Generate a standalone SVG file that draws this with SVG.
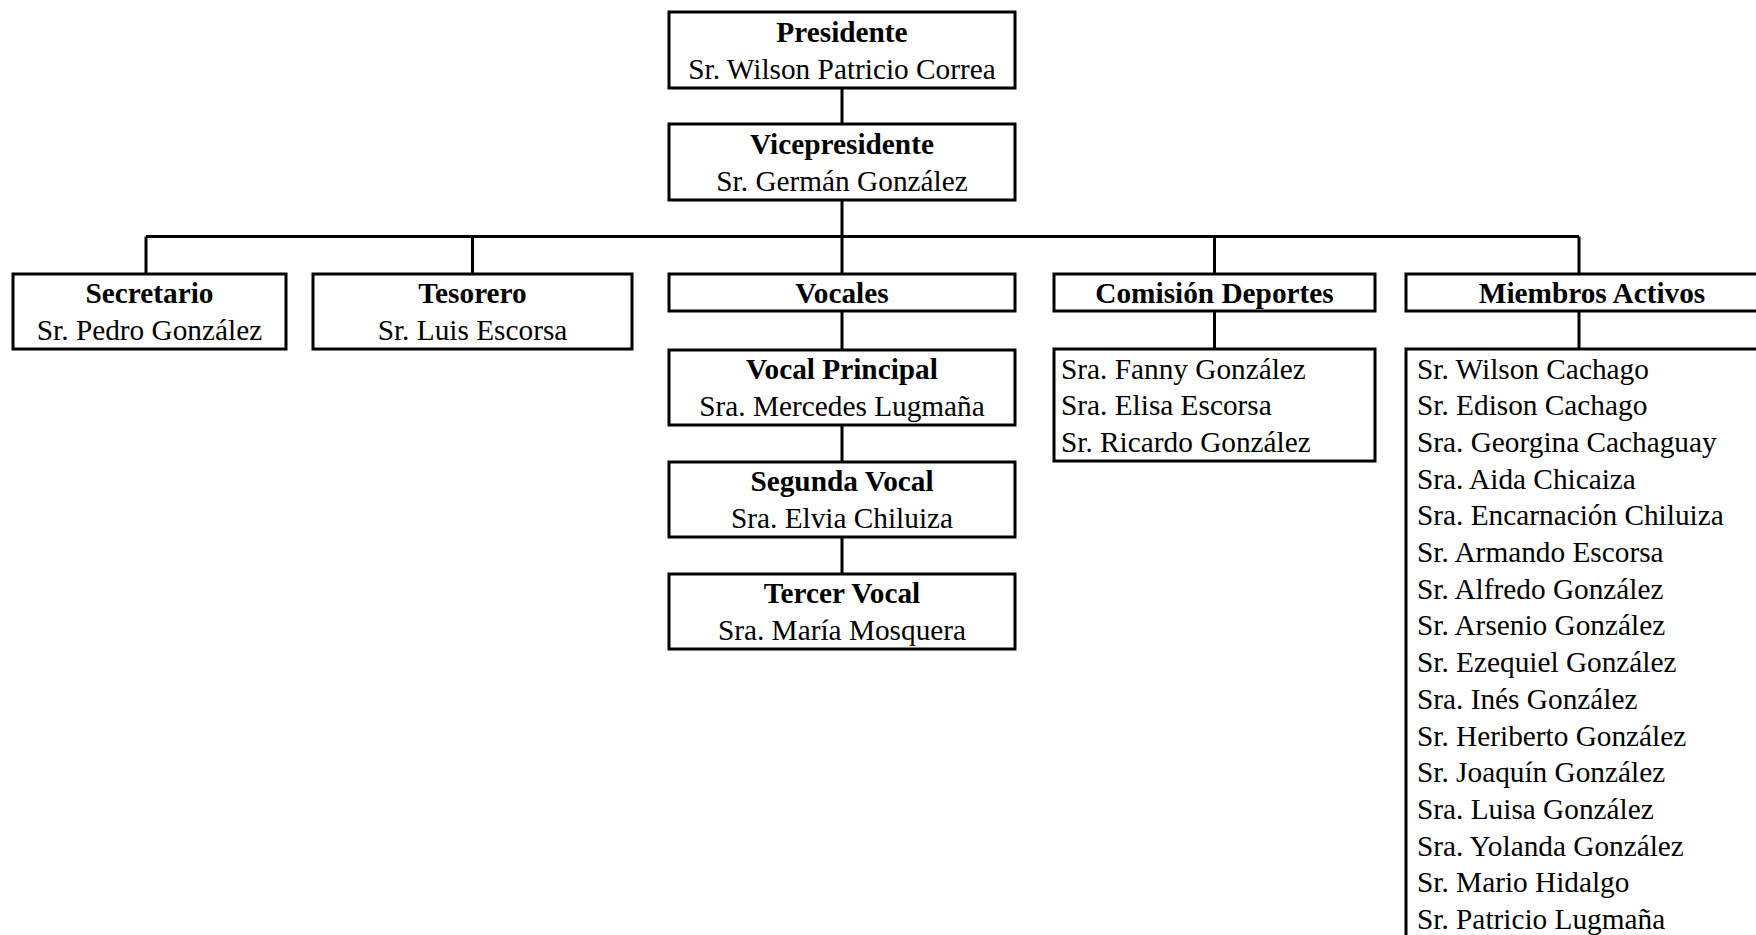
<svg xmlns="http://www.w3.org/2000/svg" width="1756" height="935" viewBox="0 0 1756 935">
<style>
.box{fill:#fff;stroke:#000;stroke-width:3}
.ln{stroke:#000;stroke-width:3;fill:none}
text{font-family:"Liberation Serif","Times New Roman",serif;font-size:29.3px;fill:#000}
.t{font-weight:bold;text-anchor:middle}
.n{text-anchor:middle}
</style>
<rect width="1756" height="935" fill="#fff"/>
<g id="connectors">
<line class="ln" x1="842" y1="88" x2="842" y2="124"/>
<line class="ln" x1="842" y1="200" x2="842" y2="274"/>
<line class="ln" x1="146" y1="236.5" x2="1579" y2="236.5"/>
<line class="ln" x1="146" y1="236.5" x2="146" y2="274"/>
<line class="ln" x1="472.5" y1="236.5" x2="472.5" y2="274"/>
<line class="ln" x1="1214.5" y1="236.5" x2="1214.5" y2="274"/>
<line class="ln" x1="1579" y1="236.5" x2="1579" y2="274"/>
<line class="ln" x1="842" y1="311" x2="842" y2="350"/>
<line class="ln" x1="842" y1="425" x2="842" y2="462"/>
<line class="ln" x1="842" y1="537" x2="842" y2="574"/>
<line class="ln" x1="1214.5" y1="311" x2="1214.5" y2="349"/>
<line class="ln" x1="1579" y1="311" x2="1579" y2="349"/>
</g>
<g id="presidente">
<rect class="box" x="669" y="12" width="346" height="76"/>
<text class="t" x="842" y="42">Presidente</text>
<text class="n" x="842" y="78.5">Sr. Wilson Patricio Correa</text>
</g>
<g id="vicepresidente">
<rect class="box" x="669" y="124" width="346" height="76"/>
<text class="t" x="842" y="154">Vicepresidente</text>
<text class="n" x="842" y="190.5">Sr. Germán González</text>
</g>
<g id="secretario">
<rect class="box" x="13" y="274" width="273" height="75"/>
<text class="t" x="149.5" y="303">Secretario</text>
<text class="n" x="149.5" y="340">Sr. Pedro González</text>
</g>
<g id="tesorero">
<rect class="box" x="313" y="274" width="319" height="75"/>
<text class="t" x="472.5" y="303">Tesorero</text>
<text class="n" x="472.5" y="340">Sr. Luis Escorsa</text>
</g>
<g id="vocales">
<rect class="box" x="669" y="274" width="346" height="37"/>
<text class="t" x="842" y="303">Vocales</text>
</g>
<g id="vocal-principal">
<rect class="box" x="669" y="350" width="346" height="75"/>
<text class="t" x="842" y="379">Vocal Principal</text>
<text class="n" x="842" y="415.5">Sra. Mercedes Lugmaña</text>
</g>
<g id="segunda-vocal">
<rect class="box" x="669" y="462" width="346" height="75"/>
<text class="t" x="842" y="491">Segunda Vocal</text>
<text class="n" x="842" y="527.5">Sra. Elvia Chiluiza</text>
</g>
<g id="tercer-vocal">
<rect class="box" x="669" y="574" width="346" height="75"/>
<text class="t" x="842" y="603">Tercer Vocal</text>
<text class="n" x="842" y="639.5">Sra. María Mosquera</text>
</g>
<g id="comision-deportes">
<rect class="box" x="1054" y="274" width="321" height="37"/>
<text class="t" x="1214.5" y="303">Comisión Deportes</text>
</g>
<g id="comision-miembros">
<rect class="box" x="1054" y="349" width="321" height="112"/>
<text x="1061" y="378.5">Sra. Fanny González</text>
<text x="1061" y="415">Sra. Elisa Escorsa</text>
<text x="1061" y="451.5">Sr. Ricardo González</text>
</g>
<g id="miembros-activos">
<rect class="box" x="1406" y="274" width="372" height="37"/>
<text class="t" x="1592" y="303">Miembros Activos</text>
</g>
<g id="miembros-lista">
<rect class="box" x="1406" y="349" width="372" height="620"/>
<text x="1417" y="378.5">Sr. Wilson Cachago</text>
<text x="1417" y="415.2">Sr. Edison Cachago</text>
<text x="1417" y="451.9">Sra. Georgina Cachaguay</text>
<text x="1417" y="488.6">Sra. Aida Chicaiza</text>
<text x="1417" y="525.3">Sra. Encarnación Chiluiza</text>
<text x="1417" y="562">Sr. Armando Escorsa</text>
<text x="1417" y="598.7">Sr. Alfredo González</text>
<text x="1417" y="635.4">Sr. Arsenio González</text>
<text x="1417" y="672.1">Sr. Ezequiel González</text>
<text x="1417" y="708.8">Sra. Inés González</text>
<text x="1417" y="745.5">Sr. Heriberto González</text>
<text x="1417" y="782.2">Sr. Joaquín González</text>
<text x="1417" y="818.9">Sra. Luisa González</text>
<text x="1417" y="855.6">Sra. Yolanda González</text>
<text x="1417" y="892.3">Sr. Mario Hidalgo</text>
<text x="1417" y="929">Sr. Patricio Lugmaña</text>
</g>
</svg>
